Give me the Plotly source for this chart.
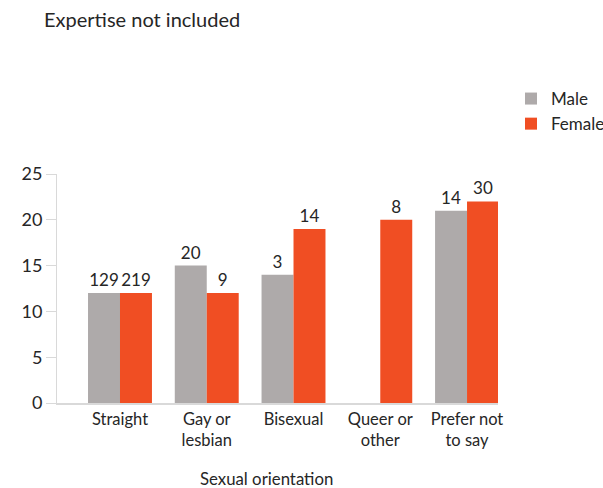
import plotly.graph_objects as go

categories = ["Straight", "Gay or<br>lesbian", "Bisexual", "Queer or<br>other", "Prefer not<br>to say"]
male_values = [12, 15, 14, None, 21]
female_values = [12, 12, 19, 20, 22]
male_labels = ["129", "20", "3", "", "14"]
female_labels = ["219", "9", "14", "8", "30"]
y_ticks = [0, 5, 10, 15, 20, 25]

FONT = "Lato"
TXT = "#262626"
L, R, T, B = 57, 498, 174, 403
W, H = R - L, B - T

fig = go.Figure()
fig.add_trace(go.Bar(
    name="Male", x=categories, y=male_values, text=male_labels,
    textposition="outside", marker_color="#AEAAAA", marker_line_width=0,
    textfont=dict(family=FONT, size=17, color=TXT), cliponaxis=False,
))
fig.add_trace(go.Bar(
    name="Female", x=categories, y=female_values, text=female_labels,
    textposition="outside", marker_color="#F04E23", marker_line_width=0,
    textfont=dict(family=FONT, size=17, color=TXT), cliponaxis=False,
))

fig.update_layout(
    width=603, height=488,
    margin=dict(l=L, r=603 - R, t=T, b=488 - B, pad=0, autoexpand=False),
    plot_bgcolor="white", paper_bgcolor="white",
    barmode="group", bargap=0.263, bargroupgap=0,
    font=dict(family=FONT, color=TXT, size=16),
    title=dict(text="Expertise not included", x=44/603, xanchor="left",
               y=1 - 20/488, yanchor="middle",
               font=dict(family=FONT, size=20, color=TXT)),
    legend=dict(x=(511 - L) / W, xanchor="left", y=(B - 81) / H, yanchor="top",
                font=dict(family=FONT, size=17, color=TXT), traceorder="normal",
                bgcolor="rgba(0,0,0,0)", tracegroupgap=4),
    uniformtext=dict(mode=False),
)
fig.update_xaxes(
    type="category", range=[-0.726, 4.357],
    showline=True, linecolor="#D9D9D9", linewidth=2,
    showgrid=False, ticks="", tickfont=dict(family=FONT, size=16.5, color=TXT),
)
fig.update_yaxes(
    range=[0, 25], tickvals=y_ticks, showgrid=False, zeroline=False,
    showline=True, linecolor="#D9D9D9", linewidth=1,
    ticks="outside", ticklen=10, tickcolor="#D9D9D9",
    tickfont=dict(family=FONT, size=18, color=TXT),
)
fig.add_annotation(text="Sexual orientation", xref="paper", yref="paper",
                   x=(266 - L) / W, y=(B - 478) / H, xanchor="center", yanchor="middle",
                   showarrow=False, font=dict(family=FONT, size=16.8, color=TXT))

fig.write_html("out.html")
